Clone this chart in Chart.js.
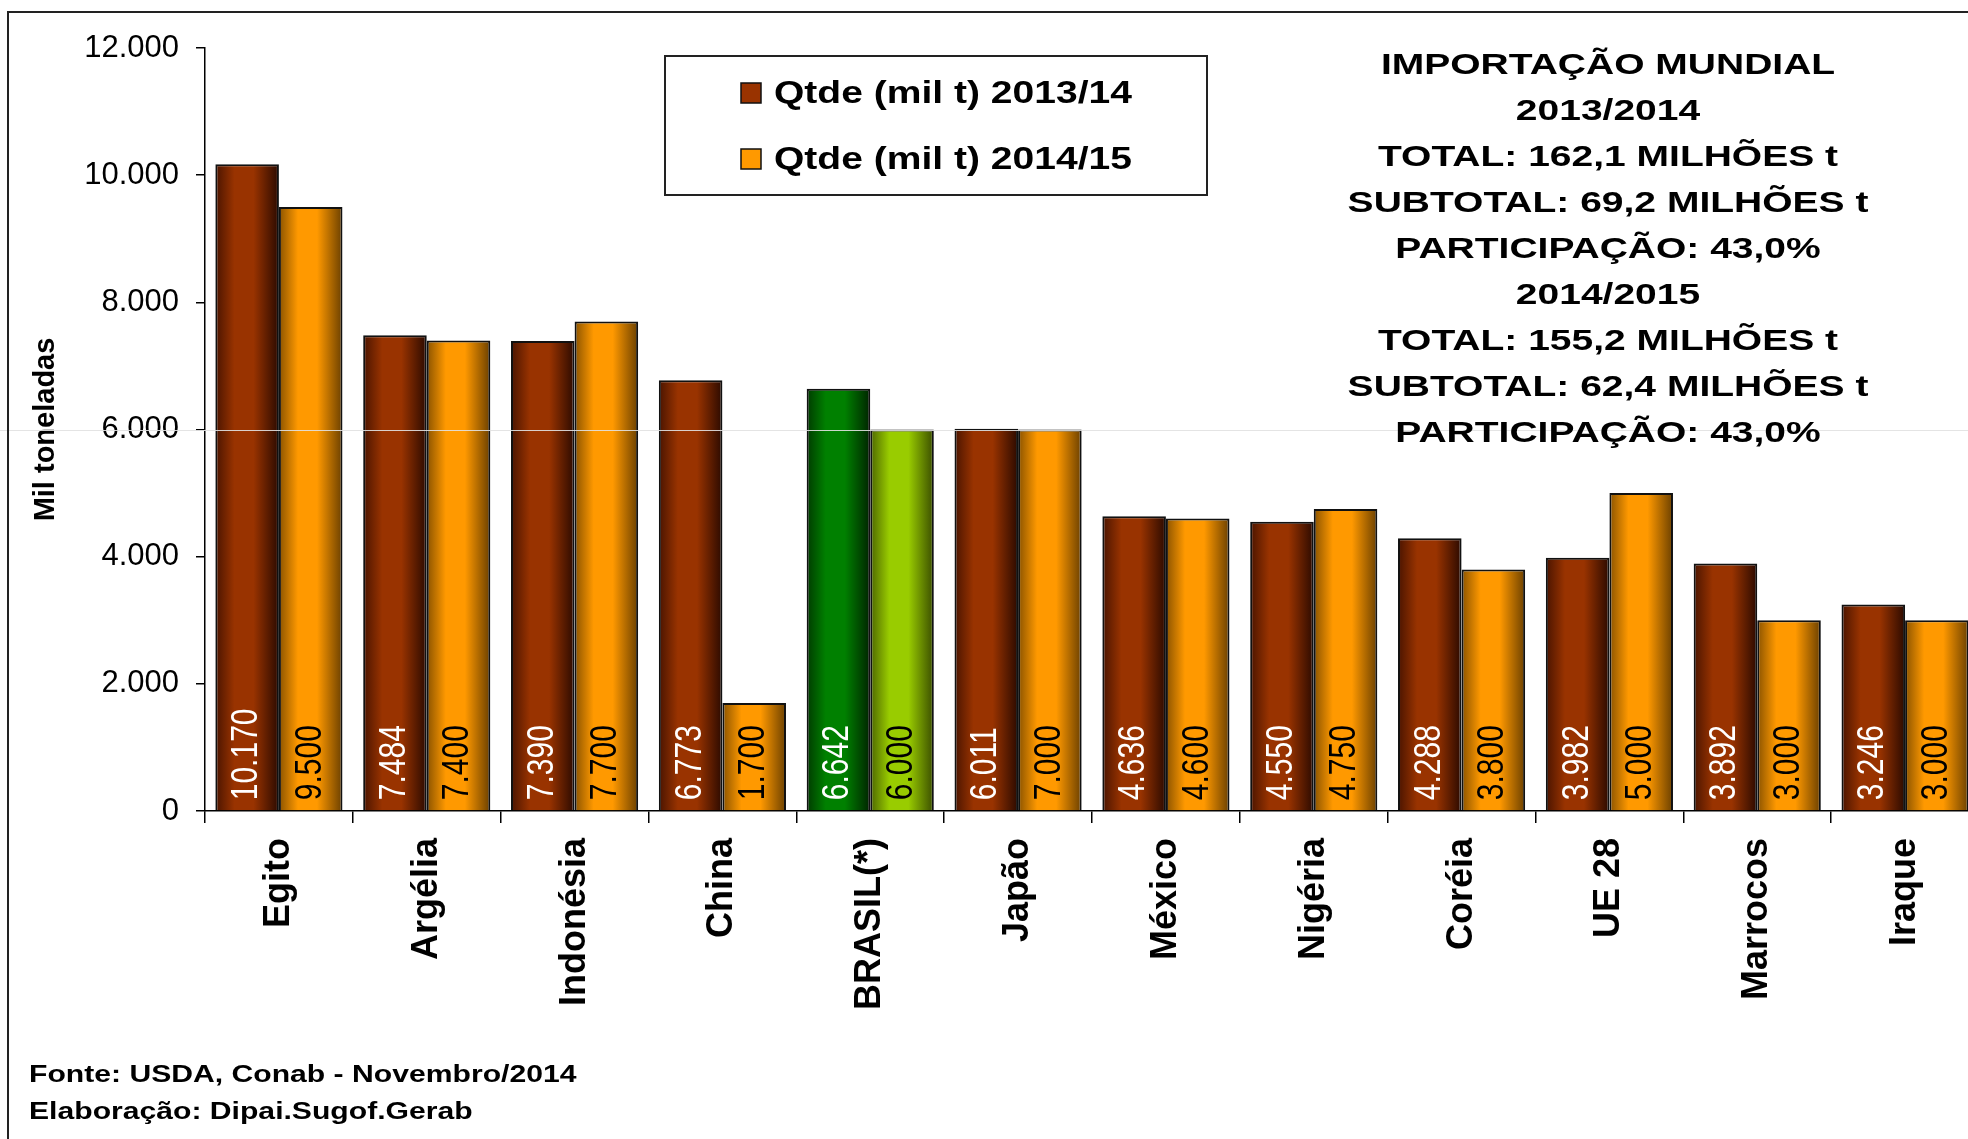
<!DOCTYPE html>
<html lang="pt-BR">
<head>
<meta charset="utf-8">
<title>Importação mundial</title>
<script src="https://cdn.jsdelivr.net/npm/chart.js@4/dist/chart.umd.min.js"></script>
<style>
  html, body { margin: 0; padding: 0; background: #fff; overflow: hidden; }
</style>
</head>
<body>
<canvas id="graficoImportacao" width="1984" height="1139"></canvas>
<script>
// Dados (mil t)
const paises = ['Egito', 'Argélia', 'Indonésia', 'China', 'BRASIL(*)', 'Japão', 'México', 'Nigéria', 'Coréia', 'UE 28', 'Marrocos', 'Iraque'];
const qtde1314 = [10170, 7484, 7390, 6773, 6642, 6011, 4636, 4550, 4288, 3982, 3892, 3246];
const qtde1415 = [9500, 7400, 7700, 1700, 6000, 6000, 4600, 4750, 3800, 5000, 3000, 3000];
// rótulos como impressos no original (Japão mostra 7.000 sobre uma barra de 6.000)
const rotulos1415 = ['9.500', '7.400', '7.700', '1.700', '6.000', '7.000', '4.600', '4.750', '3.800', '5.000', '3.000', '3.000'];
const ticksY = [0, 2000, 4000, 6000, 8000, 10000, 12000];
const legendas = ['Qtde (mil t) 2013/14', 'Qtde (mil t) 2014/15'];
const resumo = [
    'IMPORTAÇÃO MUNDIAL',
    '2013/2014',
    'TOTAL: 162,1 MILHÕES t',
    'SUBTOTAL: 69,2 MILHÕES t',
    'PARTICIPAÇÃO: 43,0%',
    '2014/2015',
    'TOTAL: 155,2 MILHÕES t',
    'SUBTOTAL: 62,4 MILHÕES t',
    'PARTICIPAÇÃO: 43,0%'
];
const fontes = ['Fonte: USDA, Conab - Novembro/2014', 'Elaboração: Dipai.Sugof.Gerab'];

const INDICE_BRASIL = 4;
const FAMILIA = '"Liberation Sans", Arial, sans-serif';
const cores = {
    marrom: ['#4a1400', '#993300', '#2b0a00'],
    laranja: ['#8a5300', '#ff9900', '#6b4000'],
    verdeEscuro: ['#003b00', '#008000', '#002400'],
    verdeClaro: ['#4d6600', '#99cc00', '#3a4d00']
};

Chart.defaults.font.family = FAMILIA;
Chart.defaults.color = '#000';

function formatar(v) {
    return String(v).replace(/\B(?=(\d{3})+(?!\d))/g, '.');
}

// Degradê horizontal de cada barra (bordas escuras, centro claro)
function gradiente(context, paleta) {
    if (context.type !== 'data') return paleta[1];
    const chart = context.chart;
    const x = chart.scales.x;
    if (!x) return paleta[1];
    const largCat = x.width / paises.length;
    const grupo = largCat * 0.86;
    const larg = grupo / 2;
    const esq = x.getPixelForValue(context.dataIndex) - grupo / 2 + context.datasetIndex * larg;
    if (!isFinite(esq) || !isFinite(larg) || larg <= 0) return paleta[1];
    const g = chart.ctx.createLinearGradient(esq, 0, esq + larg, 0);
    g.addColorStop(0, paleta[0]);
    g.addColorStop(0.3, paleta[1]);
    g.addColorStop(0.6, paleta[1]);
    g.addColorStop(1, paleta[2]);
    return g;
}

// Texto esticado na horizontal, como no original
function texto(ctx, t, x, y, escala, alinhamento) {
    ctx.save();
    ctx.translate(x, y);
    ctx.scale(escala, 1);
    ctx.textAlign = alinhamento;
    ctx.fillText(t, 0, 0);
    ctx.restore();
}

const rotulosBarras = {
    id: 'rotulosBarras',
    afterDatasetsDraw(chart) {
        const ctx = chart.ctx;
        // linha clara em 6.000 que atravessa o gráfico original
        const y6000 = Math.round(chart.scales.y.getPixelForValue(6000)) + 0.5;
        ctx.save();
        ctx.strokeStyle = 'rgba(225,225,225,0.9)';
        ctx.lineWidth = 1;
        ctx.beginPath();
        ctx.moveTo(0, y6000);
        ctx.lineTo(chart.width, y6000);
        ctx.stroke();
        ctx.restore();

        chart.data.datasets.forEach((ds, i) => {
            chart.getDatasetMeta(i).data.forEach((barra, j) => {
                ctx.save();
                ctx.translate(barra.x, barra.base - 10);
                ctx.rotate(-Math.PI / 2);
                ctx.scale(1, 1.2);
                ctx.font = '30px ' + FAMILIA;
                ctx.fillStyle = i === 0 ? '#fff' : '#000';
                ctx.textAlign = 'left';
                ctx.textBaseline = 'middle';
                ctx.fillText(i === 0 ? formatar(qtde1314[j]) : rotulos1415[j], 0, 0);
                ctx.restore();
            });
        });
    }
};

const extras = {
    id: 'extras',
    afterDraw(chart) {
        const ctx = chart.ctx;
        ctx.save();

        // moldura externa
        ctx.strokeStyle = '#222';
        ctx.lineWidth = 2;
        ctx.strokeRect(8, 12, 3000, 3000);

        // legenda
        ctx.fillStyle = '#fff';
        ctx.fillRect(665, 56, 542, 139);
        ctx.strokeStyle = '#222';
        ctx.lineWidth = 2;
        ctx.strokeRect(665, 56, 542, 139);
        const linhas = [93, 159];
        const marcas = [cores.marrom[1], cores.laranja[1]];
        linhas.forEach((y, k) => {
            ctx.fillStyle = marcas[k];
            ctx.fillRect(741, y - 10, 20, 20);
            ctx.lineWidth = 1.5;
            ctx.strokeStyle = '#111';
            ctx.strokeRect(741, y - 10, 20, 20);
            ctx.fillStyle = '#000';
            ctx.font = 'bold 32px ' + FAMILIA;
            ctx.textBaseline = 'middle';
            texto(ctx, legendas[k], 774, y + 1, 1.22, 'left');
        });

        // resumo à direita
        ctx.fillStyle = '#000';
        ctx.font = 'bold 30px ' + FAMILIA;
        ctx.textBaseline = 'middle';
        resumo.forEach((t, k) => texto(ctx, t, 1608, 66 + k * 46, 1.3, 'center'));

        // fonte
        ctx.font = 'bold 23px ' + FAMILIA;
        ctx.textBaseline = 'alphabetic';
        texto(ctx, fontes[0], 29, 1082, 1.31, 'left');
        texto(ctx, fontes[1], 29, 1119, 1.31, 'left');

        ctx.restore();
    }
};

new Chart(document.getElementById('graficoImportacao'), {
    type: 'bar',
    data: {
        labels: paises,
        datasets: [{
            label: legendas[0],
            data: qtde1314,
            backgroundColor: c => gradiente(c, c.dataIndex === INDICE_BRASIL ? cores.verdeEscuro : cores.marrom),
            borderColor: '#111',
            borderWidth: 2,
            categoryPercentage: 0.86,
            barPercentage: 1
        }, {
            label: legendas[1],
            data: qtde1415,
            backgroundColor: c => gradiente(c, c.dataIndex === INDICE_BRASIL ? cores.verdeClaro : cores.laranja),
            borderColor: '#111',
            borderWidth: 2,
            categoryPercentage: 0.86,
            barPercentage: 1
        }]
    },
    options: {
        responsive: false,
        animation: false,
        devicePixelRatio: 1,
        layout: { padding: { top: 48, right: 5, left: 0, bottom: 0 } },
        plugins: {
            legend: { display: false },
            tooltip: { enabled: false }
        },
        scales: {
            x: {
                grid: { offset: true, drawOnChartArea: false, tickLength: 12, color: '#000', lineWidth: 1.5 },
                border: { color: '#000', width: 1.5 },
                ticks: {
                    autoSkip: false,
                    minRotation: 90,
                    maxRotation: 90,
                    padding: 15,
                    color: '#000',
                    font: { size: 36, weight: 'bold' }
                },
                afterFit: s => { s.height = 328; }
            },
            y: {
                min: 0,
                max: 12000,
                afterBuildTicks: s => { s.ticks = ticksY.map(v => ({ value: v })); },
                grid: { drawOnChartArea: false, tickLength: 9, color: '#000', lineWidth: 1.5 },
                border: { color: '#000', width: 1.5 },
                ticks: {
                    padding: 17,
                    color: '#000',
                    font: { size: 31 },
                    callback: v => formatar(v)
                },
                title: {
                    display: true,
                    text: 'Mil toneladas',
                    color: '#000',
                    font: { size: 29, weight: 'bold' },
                    padding: { top: 29, bottom: 0 }
                },
                afterFit: s => { s.width = 205; }
            }
        }
    },
    plugins: [rotulosBarras, extras]
});
</script>
</body>
</html>
